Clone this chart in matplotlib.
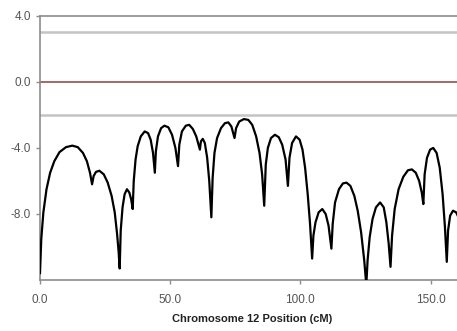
import matplotlib
matplotlib.use("Agg")
import matplotlib.pyplot as plt

plt.rcParams['font.family'] = ['Liberation Sans', 'DejaVu Sans']

# LOD profile along chromosome 12 (position in cM, score)
pos = [0, 0.5, 1.3, 2.5, 3.9, 5.5, 7.5, 10, 12.4, 14.5, 16.5, 18, 19.2, 20,
       20.6, 21.5, 22.8, 24.5, 26, 27.5, 28.7, 29.6, 30.2, 30.6,
       31, 31.7, 32.5, 33.4, 34.3, 35, 35.6,
       36, 36.7, 37.5, 38.7, 40.2, 41.5, 42.5, 43.4, 44.1,
       44.5, 45.3, 46.5, 47.8, 49.3, 50.7, 52, 53,
       53.5, 54.5, 56, 57.3, 58.7, 60, 61.4,
       61.8, 62.5, 63.3, 64.2, 65, 65.8,
       66.3, 67, 68, 69.5, 71, 72.3, 73.5, 74.7,
       75.3, 76.5, 78.3, 80, 81.5, 83, 84.3, 85.3, 86.1,
       86.7, 87.5, 88.7, 90.2, 91.7, 93, 94.3, 95.2,
       95.8, 96.8, 98.3, 99.7, 100.8, 101.8, 102.8, 103.7, 104.5,
       105, 105.8, 107, 108.4, 109.7, 110.8, 111.9,
       112.4, 113.3, 114.8, 116.3, 117.7, 119.2, 120.7, 122, 123.3, 124.5, 125.3,
       125.8, 126.6, 127.7, 129, 130.6, 132, 133, 133.9, 134.6,
       135.2, 136.2, 137.7, 139.5, 141.3, 142.8, 144.3, 145.6, 146.6, 147.2,
       147.7, 148.6, 149.8, 151, 152.3, 153.5, 154.6, 155.5, 156.2,
       156.7, 157.5, 158.6, 159.8, 161, 162.2, 163.5]
lod = [-11.6, -9.5, -7.9, -6.5, -5.5, -4.8, -4.25, -3.95, -3.86, -3.95, -4.3, -4.8, -5.5, -6.2,
       -5.7, -5.45, -5.38, -5.6, -6.1, -6.9, -7.9, -9.2, -10.3, -11.3,
       -9.0, -7.6, -6.8, -6.5, -6.7, -7.1, -7.7,
       -6.0, -4.7, -3.9, -3.3, -3.0, -3.1, -3.5, -4.3, -5.5,
       -4.2, -3.3, -2.8, -2.65, -2.75, -3.2, -4.0, -5.1,
       -3.8, -3.0, -2.65, -2.6, -2.85, -3.3, -4.1,
       -3.6, -3.45, -3.7, -4.6, -6.0, -8.2,
       -5.8, -4.3, -3.4, -2.8, -2.5, -2.45, -2.7, -3.4,
       -2.8, -2.4, -2.25, -2.3, -2.6, -3.3, -4.3, -5.6, -7.5,
       -5.0, -4.0, -3.4, -3.2, -3.35, -3.8, -4.7, -6.3,
       -4.6, -3.7, -3.3, -3.5, -4.1, -5.2, -6.8, -8.6, -10.7,
       -9.3, -8.5, -7.9, -7.7, -8.0, -8.7, -10.1,
       -8.6, -7.3, -6.5, -6.15, -6.1, -6.3, -6.9, -7.8, -9.1, -10.8, -12.3,
       -10.8, -9.4, -8.3, -7.6, -7.3, -7.6, -8.5, -9.8, -11.2,
       -9.3, -7.7, -6.5, -5.75, -5.35, -5.3, -5.5, -6.0, -6.7, -7.4,
       -5.6, -4.6, -4.1, -4.0, -4.3, -5.2, -6.8, -8.8, -10.9,
       -9.0, -8.1, -7.8, -7.9, -8.3, -8.9, -9.6]

# threshold lines
upper_thr = 3.0
lower_thr = -2.0

yticks = [4.0, 0.0, -4.0, -8.0]
xticks = [0, 50, 100, 150]

fig = plt.figure(figsize=(4.57, 3.31), dpi=100)
ax = fig.add_axes([0.0875, 0.154, 0.93, 0.798])

ax.axhline(upper_thr, color='#c4c4c4', lw=1.8, zorder=1)
ax.axhline(lower_thr, color='#c4c4c4', lw=1.8, zorder=1)
ax.axhline(0.0, color='#8a4040', lw=1.1, zorder=1)
ax.plot(pos, lod, color='black', lw=1.6, zorder=3,
        solid_joinstyle='round', solid_capstyle='round')

ax.set_xlim(0, 163.2)
ax.set_ylim(-12, 4)
ax.set_yticks(yticks)
ax.set_yticklabels(['%.1f' % v for v in yticks])
ax.set_xticks(xticks)
ax.set_xticklabels(['%.1f' % v for v in xticks])

ax.spines['right'].set_visible(False)
for side in ['left', 'bottom', 'top']:
    ax.spines[side].set_color('#8c8c8c')
    ax.spines[side].set_linewidth(1.2)

ax.tick_params(axis='both', colors='#8c8c8c', labelcolor='#555555',
               labelsize=8.5, length=3, width=1)
ax.tick_params(axis='x', pad=7)
ax.set_xlabel('Chromosome 12 Position (cM)', fontsize=8, fontweight='bold',
              color='#222222', labelpad=6)

fig.savefig('out.png', dpi=100)
